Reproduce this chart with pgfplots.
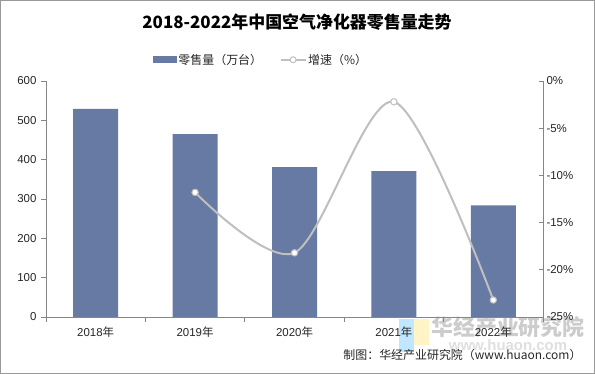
\documentclass[border=0pt]{standalone}
\usepackage{pgfplots}
\pgfplotsset{compat=1.18}
\usepackage{fontspec}
\setmainfont{Liberation Sans}
\newfontfamily\cjk{Noto Sans CJK SC}
\definecolor{barcol}{HTML}{677AA3}
\definecolor{linecol}{HTML}{BFBFBF}
\definecolor{axcol}{HTML}{868686}
\definecolor{txtcol}{HTML}{262626}
\newcommand{\yr}[1]{#1{\cjk 年}}
\begin{document}
\begin{tikzpicture}
\useasboundingbox (0,0) rectangle (595bp,374bp);
\fill[white] (0,0) rectangle (595bp,374bp);
\draw[gray!80] (0.5bp,0.5bp) rectangle (594.5bp,373.5bp);
% watermark
\fill[blue!40!cyan!60, opacity=0.4] (399bp,22bp) rectangle (414bp,55bp);
\fill[yellow!70!orange!40, opacity=0.55] (414bp,29bp) rectangle (429bp,55bp);
\node[text=gray!40, font=\cjk\bfseries\fontsize{22}{24}\selectfont] at (508bp,47bp) {华经产业研究院};
\node[text=gray!25, font=\bfseries\fontsize{15}{17}\selectfont] at (508bp,29bp) {www.huaon.com};
\begin{axis}[
  at={(46bp,57bp)}, anchor=south west, scale only axis,
  width=497bp, height=236bp,
  xmin=-0.5, xmax=4.5, ymin=0, ymax=600,
  axis y line*=left, axis x line*=bottom,
  axis line style={axcol, line width=0.8pt},
  xtick={0,...,4},
  xticklabels={\yr{2018},\yr{2019},\yr{2020},\yr{2021},\yr{2022}},
  minor xtick={-0.5,0.5,...,4.5},
  major x tick style={draw=none},
  minor tick length=5bp, major tick length=5bp,
  tick align=outside,
  tick style={axcol, line width=0.8pt},
  ytick={0,100,...,600},
  yticklabel style={font=\fontsize{11.5}{13}\selectfont, text=txtcol, xshift=-1bp},
  xticklabel style={font=\fontsize{11.5}{13}\selectfont, text=txtcol, yshift=-1bp},
  /pgf/number format/assume math mode=true,
  legend style={at={(0.432,1.09)}, anchor=center, legend columns=2, draw=none,
    font=\cjk\fontsize{12}{14}\selectfont, text=txtcol,
    nodes={inner xsep=1.5bp},
    /tikz/every odd column/.append style={column sep=0bp},
    /tikz/every even column/.append style={column sep=16bp}},
  clip=false,
]
\addplot[ybar, bar width=45bp, fill=barcol, draw=none, bar shift=0pt,
  legend image code/.code={\fill[barcol] (0bp,-3.5bp) rectangle (24bp,3.5bp);}]
  coordinates {(0,529) (1,465) (2,381) (3,371) (4,284)};
\addlegendentry{零售量（万台）}
\addlegendimage{linecol, line width=2bp,
  legend image code/.code={\draw[linecol, line width=2bp] (0bp,0) -- (25bp,0); \draw[linecol, line width=1bp, fill=white] (12.5bp,0) circle (3bp);}}
\addlegendentry{增速（\%）}
\end{axis}
\begin{axis}[
  at={(46bp,57bp)}, anchor=south west, scale only axis,
  width=497bp, height=236bp,
  xmin=-0.5, xmax=4.5, ymin=-25, ymax=0,
  axis y line*=right, axis x line=none,
  axis line style={axcol, line width=0.8pt},
  ytick={-25,-20,...,0},
  yticklabel={\pgfmathprintnumber{\tick}\%},
  yticklabel style={font=\fontsize{11.5}{13}\selectfont, text=txtcol},
  /pgf/number format/assume math mode=true,
  tick align=inside, major tick length=4bp,
  tick style={axcol, line width=0.8pt},
  clip=false,
]
\addplot[linecol, line width=2bp, smooth, mark=*, mark size=3.2bp,
  mark options={fill=white, draw=linecol, line width=1bp}]
  coordinates {(1,-11.8) (2,-18.2) (3,-2.2) (4,-23.2)};
\end{axis}
\node[font=\cjk\bfseries\fontsize{17}{20}\selectfont, text=black] at (297bp,352bp) {2018-2022年中国空气净化器零售量走势};
\node[anchor=east, font=\cjk\fontsize{12}{14}\selectfont, text=txtcol] at (585bp,19bp) {制图：华经产业研究院（www.huaon.com）};
\end{tikzpicture}
\end{document}
